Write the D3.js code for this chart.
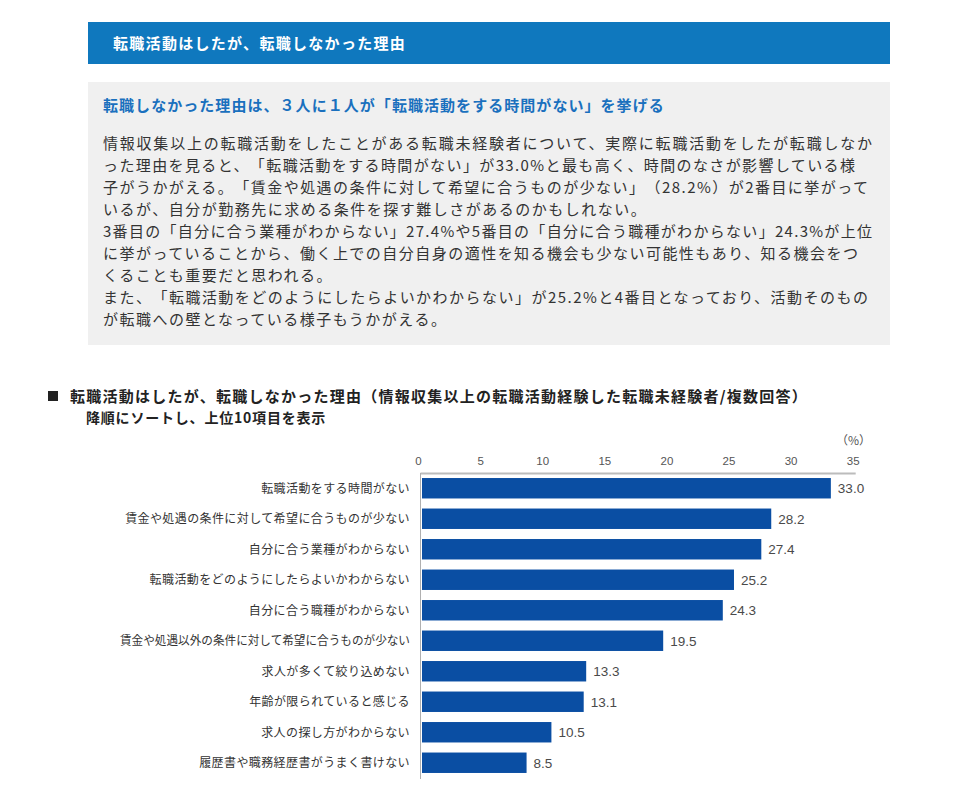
<!DOCTYPE html>
<html><head><meta charset="utf-8">
<script src="https://cdn.jsdelivr.net/npm/d3@7"></script>
<style>
html,body{margin:0;padding:0;background:#fff;}
svg{display:block;font-family:"Noto Sans CJK JP","Noto Sans",sans-serif;}
svg text{text-spacing-trim:space-all;}
</style></head>
<body>
<script>
// ---- data ----
const categories = [
  "転職活動をする時間がない",
  "賃金や処遇の条件に対して希望に合うものが少ない",
  "自分に合う業種がわからない",
  "転職活動をどのようにしたらよいかわからない",
  "自分に合う職種がわからない",
  "賃金や処遇以外の条件に対して希望に合うものが少ない",
  "求人が多くて絞り込めない",
  "年齢が限られていると感じる",
  "求人の探し方がわからない",
  "履歴書や職務経歴書がうまく書けない"
];
const values = [33.0, 28.2, 27.4, 25.2, 24.3, 19.5, 13.3, 13.1, 10.5, 8.5];
const tickValues = [0, 5, 10, 15, 20, 25, 30, 35];
const unitLabel = "（%）";

const headerTitle = "転職活動はしたが、転職しなかった理由";
const boxHeading = "転職しなかった理由は、３人に１人が「転職活動をする時間がない」を挙げる";
const bodyLines = [
  "情報収集以上の転職活動をしたことがある転職未経験者について、実際に転職活動をしたが転職しなか",
  "った理由を見ると、「転職活動をする時間がない」が33.0%と最も高く、時間のなさが影響している様",
  "子がうかがえる。「賃金や処遇の条件に対して希望に合うものが少ない」（28.2%）が2番目に挙がって",
  "いるが、自分が勤務先に求める条件を探す難しさがあるのかもしれない。",
  "3番目の「自分に合う業種がわからない」27.4%や5番目の「自分に合う職種がわからない」24.3%が上位",
  "に挙がっていることから、働く上での自分自身の適性を知る機会も少ない可能性もあり、知る機会をつ",
  "くることも重要だと思われる。",
  "また、「転職活動をどのようにしたらよいかわからない」が25.2%と4番目となっており、活動そのもの",
  "が転職への壁となっている様子もうかがえる。"
];
// measured right ends of the full-width (wrapped) lines in the reference; null = natural
const bodyLineEnds = [872, 855, 868, null, 872, 858, null, 868, null];
const chartTitle = "転職活動はしたが、転職しなかった理由（情報収集以上の転職活動経験した転職未経験者/複数回答）";
const chartSubtitle = "降順にソートし、上位10項目を表示";

// ---- drawing ----
const W = 980, H = 787;
const svg = d3.select("body").append("svg").attr("width", W).attr("height", H);

// header bar
svg.append("rect").attr("x", 88).attr("y", 22).attr("width", 802).attr("height", 42).attr("fill", "#0f78be");
svg.append("text").attr("x", 113).attr("y", 49).attr("fill", "#fff")
  .attr("font-size", 15).attr("font-weight", "bold").attr("letter-spacing", 1.3).text(headerTitle);

// gray box
svg.append("rect").attr("x", 88).attr("y", 82).attr("width", 802).attr("height", 263).attr("fill", "#f0f0f0");
svg.append("text").attr("x", 103).attr("y", 111).attr("fill", "#1a70be")
  .attr("font-size", 15).attr("font-weight", "bold").attr("letter-spacing", 1.05).text(boxHeading);
const bodyX = 103;
svg.append("g").selectAll("text").data(bodyLines).join("text")
  .attr("x", bodyX).attr("y", (d, i) => 149 + i * 22)
  .attr("fill", "#333").attr("font-size", 15).attr("letter-spacing", 1.5)
  .text(d => d)
  .each(function(d, i) {
    const end = bodyLineEnds[i];
    if (end) {
      d3.select(this).attr("letter-spacing", 0)
        .attr("textLength", end - bodyX).attr("lengthAdjust", "spacing");
    }
  });

// chart title
svg.append("rect").attr("x", 48).attr("y", 391).attr("width", 10).attr("height", 10).attr("fill", "#222");
svg.append("text").attr("x", 70).attr("y", 402).attr("fill", "#222")
  .attr("font-size", 15).attr("font-weight", "bold").attr("letter-spacing", 1.25).text(chartTitle);
svg.append("text").attr("x", 86).attr("y", 423).attr("fill", "#222")
  .attr("font-size", 14).attr("font-weight", "bold").attr("letter-spacing", 0.8).text(chartSubtitle);

// scales
const x = d3.scaleLinear().domain([0, 35]).range([421, 855.7]);
const y = d3.scaleBand().domain(categories).range([473, 778]).paddingInner(0.33).paddingOuter(0.165);

// top axis tick labels
const axis = d3.axisTop(x).tickValues(tickValues).tickSize(0).tickPadding(0).tickFormat(d3.format("d"));
const gAxis = svg.append("g").attr("transform", "translate(-3,465)").call(axis);
gAxis.select(".domain").remove();
gAxis.selectAll("text").attr("fill", "#555").attr("font-size", 11.5)
  .attr("font-family", "'Liberation Sans', Arial, sans-serif");

svg.append("text").attr("x", 871).attr("y", 445).attr("text-anchor", "end")
  .attr("fill", "#555").attr("font-size", 12).text(unitLabel);

// frame lines
svg.append("line").attr("x1", 420.5).attr("x2", x(35)).attr("y1", 473.5).attr("y2", 473.5)
  .attr("stroke", "#bcbcbc").attr("stroke-width", 2);
svg.append("line").attr("x1", 420.5).attr("x2", 420.5).attr("y1", 473).attr("y2", 779)
  .attr("stroke", "#b0b0b0").attr("stroke-width", 1);

// bars
svg.append("g").selectAll("rect").data(values).join("rect")
  .attr("x", x(0) + 1)
  .attr("y", (d, i) => y(categories[i]))
  .attr("width", d => x(d) - x(0) - 1)
  .attr("height", y.bandwidth())
  .attr("fill", "#0a4ea3");

// value labels
svg.append("g").selectAll("text").data(values).join("text")
  .attr("x", d => x(d) + 7)
  .attr("y", (d, i) => y(categories[i]) + y.bandwidth() / 2)
  .attr("dy", "0.36em")
  .attr("fill", "#4a4a4a").attr("font-size", 13.5)
  .attr("font-family", "'Liberation Sans', Arial, sans-serif")
  .text(d => d.toFixed(1));

// category labels (long labels squeezed to the available width)
const labelRight = 410, labelMaxW = 290;
svg.append("g").selectAll("text").data(categories).join("text")
  .attr("x", labelRight)
  .attr("y", d => y(d) + y.bandwidth() / 2)
  .attr("dy", "0.36em")
  .attr("text-anchor", "end")
  .attr("fill", "#333").attr("font-size", 12).attr("letter-spacing", 0.4)
  .text(d => d)
  .each(function() {
    const w = this.getComputedTextLength();
    if (w > labelMaxW) {
      d3.select(this).attr("letter-spacing", 0)
        .attr("textLength", labelMaxW).attr("lengthAdjust", "spacingAndGlyphs");
    }
  });
</script>
</body></html>
